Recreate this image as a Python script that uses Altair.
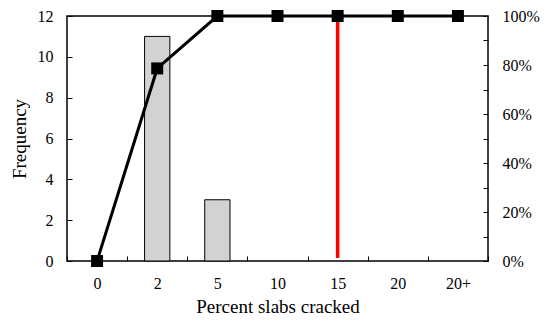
import altair as alt
import pandas as pd

categories = ["0", "2", "5", "10", "15", "20", "20+"]
frequency = [0, 11, 3, 0, 0, 0, 0]
cumulative = [0.0, 0.786, 1.0, 1.0, 1.0, 1.0, 1.0]
limit_category = ["15"]
limit_low = [0.15]
limit_high = [12]
freq_ticks = [0, 2, 4, 6, 8, 10, 12]
pct_ticks = [0, 0.1, 0.2, 0.3, 0.4, 0.5, 0.6, 0.7, 0.8, 0.9, 1.0]

df = pd.DataFrame({"cat": categories, "freq": frequency, "cum": cumulative})
bdf = df[df["freq"] > 0]
rdf = pd.DataFrame({"cat": limit_category, "lo": limit_low, "hi": limit_high})

FONT = "Liberation Serif"

xscale = alt.Scale(domain=categories, paddingInner=0, paddingOuter=0)
xaxis = alt.Axis(
    title="Percent slabs cracked", labelAngle=0, domain=False, ticks=True,
    tickBand="extent", tickSize=5, offset=-5, labelPadding=14, titlePadding=6,
    labelFont=FONT, titleFont=FONT, labelFontSize=16, titleFontSize=19,
    labelColor="black", titleColor="black", tickColor="black", tickWidth=1,
    titleFontWeight="normal", grid=False,
)

bars = alt.Chart(bdf).mark_bar(
    width=alt.RelativeBandSize(0.42), fill="#d2d2d2", stroke="black", strokeWidth=1
).encode(
    x=alt.X("cat:N", sort=categories, scale=xscale, axis=xaxis),
    y=alt.Y("freq:Q", scale=alt.Scale(domain=[0, 12], nice=False),
            axis=alt.Axis(title="Frequency", values=freq_ticks, domain=False,
                          tickSize=5, offset=-5, labelPadding=14, titlePadding=8,
                          labelFont=FONT, titleFont=FONT, labelFontSize=16,
                          titleFontSize=19, labelColor="black", titleColor="black",
                          tickColor="black", titleFontWeight="normal", grid=False)),
)

rule = alt.Chart(rdf).mark_rule(color="#ff0000", strokeWidth=3.5).encode(
    x=alt.X("cat:N", sort=categories, scale=xscale),
    y=alt.Y("lo:Q", scale=alt.Scale(domain=[0, 12], nice=False), axis=None),
    y2="hi:Q",
)

line = alt.Chart(df).mark_line(
    color="black", strokeWidth=3,
    point=alt.OverlayMarkDef(shape="square", size=144, filled=True, color="black", opacity=1),
).encode(
    x=alt.X("cat:N", sort=categories, scale=xscale),
    y=alt.Y("cum:Q", scale=alt.Scale(domain=[0, 1], nice=False),
            axis=alt.Axis(orient="right", title=None, values=pct_ticks, domain=False,
                          tickSize=5, offset=-5, labelPadding=14,
                          labelExpr="round(datum.value*10) % 2 == 0 ? format(datum.value, '.0%') : ''",
                          labelFont=FONT, labelFontSize=16, labelColor="black",
                          tickColor="black", grid=False)),
)

chart = alt.layer(bars, rule, line).resolve_scale(y="independent").properties(
    width=421, height=245, autosize="none",
    padding={"left": 59, "top": 8, "right": 55, "bottom": 54},
).configure(
    background="white", font=FONT,
    style={"guide-label": {"font": FONT}, "guide-title": {"font": FONT}},
).configure_view(
    stroke="black", strokeWidth=1.5
).configure_axis(labelFont=FONT, titleFont=FONT)

chart.save("out.html", embed_options={"renderer": "svg", "actions": False})
